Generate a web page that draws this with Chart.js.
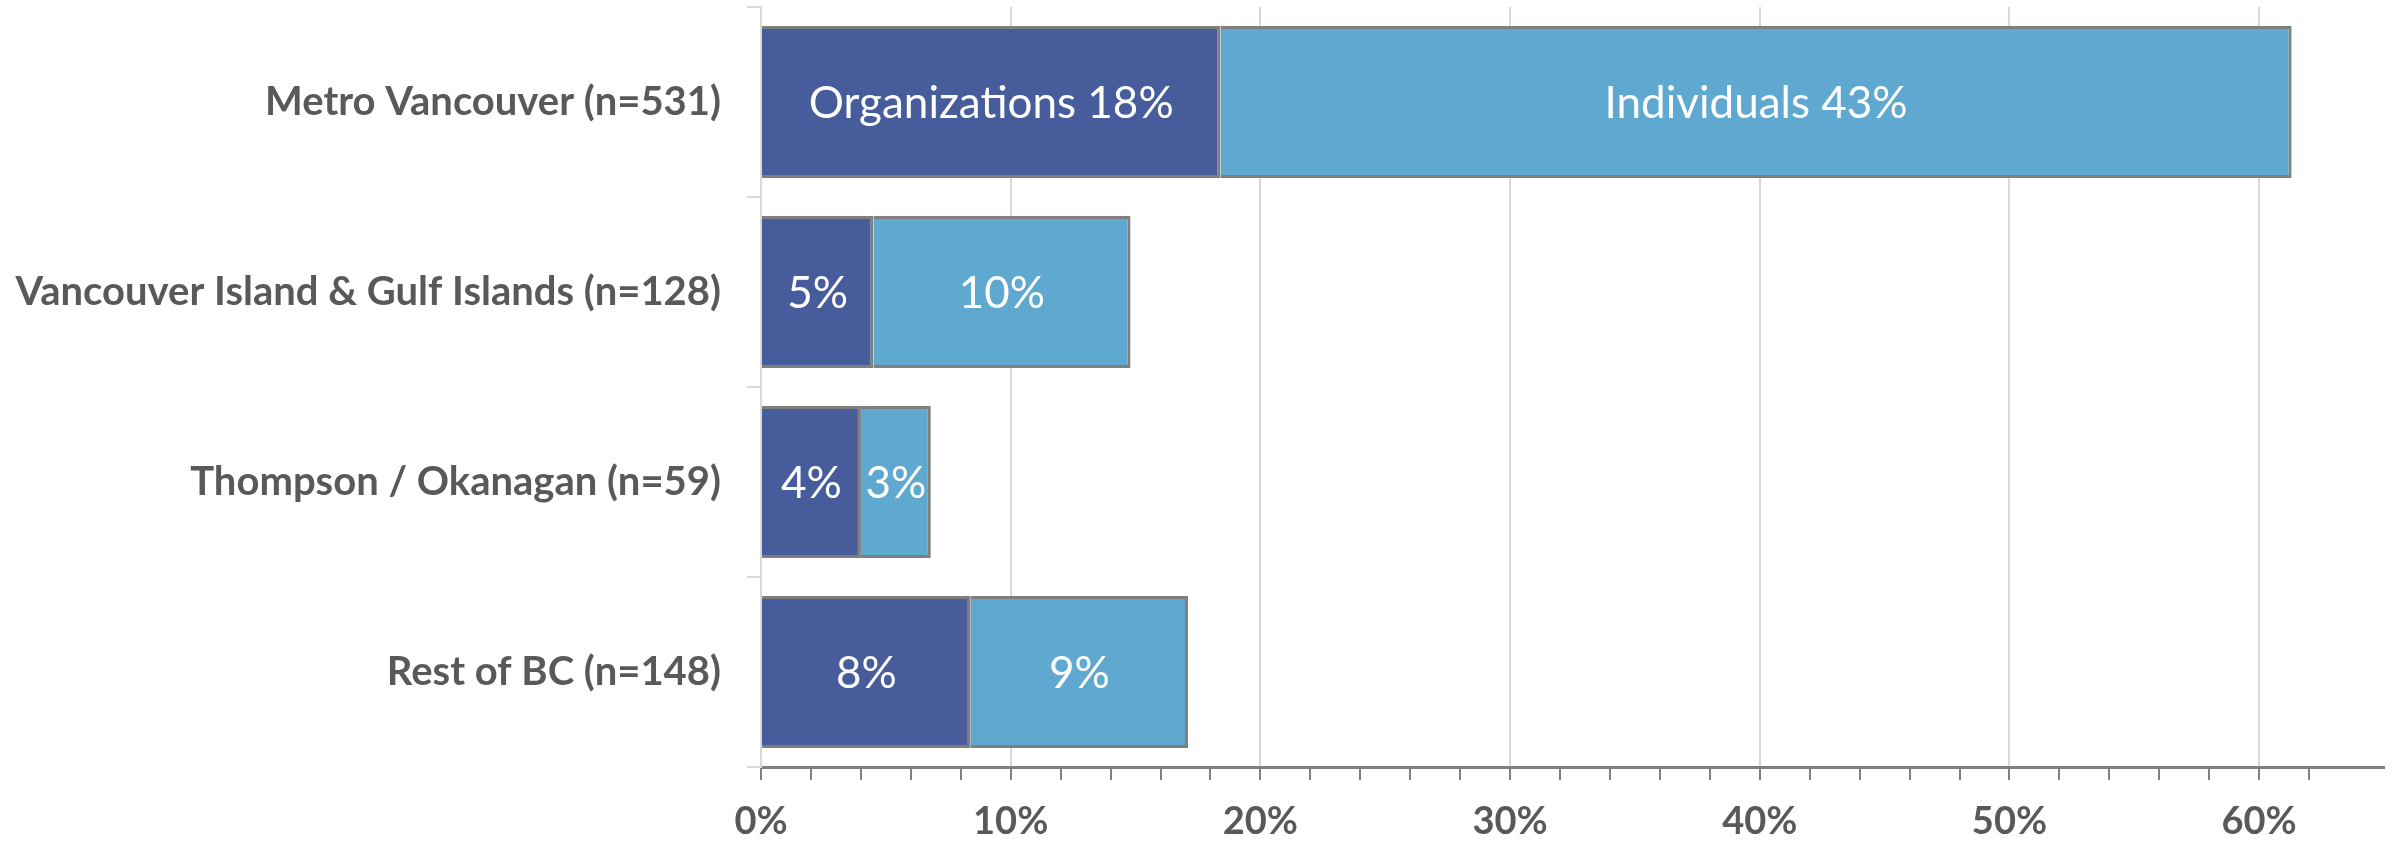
<!DOCTYPE html>
<html>
<head>
<meta charset="utf-8">
<script src="https://cdn.jsdelivr.net/npm/chart.js@4.4.1/dist/chart.umd.min.js"></script>
<style>
    html, body { margin: 0; padding: 0; background: #fff; }
    #wrap { width: 2402px; height: 842px; }
</style>
</head>
<body>
<div id="wrap"><canvas id="myChart" width="2402" height="842"></canvas></div>
<script>
const regions = [
    'Metro Vancouver (n=531)',
    'Vancouver Island & Gulf Islands (n=128)',
    'Thompson / Okanagan (n=59)',
    'Rest of BC (n=148)',
];

const organizations = [18.4, 4.5, 4.0, 8.4];
const individuals = [42.9, 10.3, 2.8, 8.7];

// only the first bar carries the series name in its label
const seriesNames = ['Organizations', 'Individuals'];

const grey = '#595959';
const font = 'Lato';

// draws the value labels inside each bar segment
const barLabels = {
    id: 'barLabels',
    afterDatasetsDraw(chart) {
        const ctx = chart.ctx;
        ctx.save();
        ctx.fillStyle = '#fff';
        ctx.font = '44px ' + font;
        ctx.textAlign = 'center';
        ctx.textBaseline = 'middle';
        chart.data.datasets.forEach(function(ds, d) {
            chart.getDatasetMeta(d).data.forEach(function(bar, i) {
                let txt = Math.round(ds.data[i]) + '%';
                if (i === 0) txt = seriesNames[d] + ' ' + txt;
                ctx.fillText(txt, (bar.x + bar.base) / 2, bar.y + 2);
            });
        });
        ctx.restore();
    }
};

const data = {
    labels: regions,
    datasets: [{
        label: seriesNames[0],
        data: organizations,
        backgroundColor: '#465C9B',
        borderColor: '#7F7F7F',
        borderWidth: 3,
    },
    {
        label: seriesNames[1],
        data: individuals,
        backgroundColor: '#5FA8CF',
        borderColor: '#7F7F7F',
        borderWidth: 3,
    }]
};

const config = {
    type: 'bar',
    data: data,
    plugins: [barLabels],
    options: {
        indexAxis: 'y',
        responsive: false,
        animation: false,
        layout: { padding: { top: 7, right: 18, left: 0, bottom: 0 } },
        datasets: {
            bar: { categoryPercentage: 1, barPercentage: 0.8 }
        },
        plugins: {
            legend: { display: false },
            tooltip: { enabled: false }
        },
        scales: {
            x: {
                stacked: true,
                min: 0,
                max: 65,
                afterFit: function(scale) {
                    scale.height = 75;
                    scale.paddingLeft = 0;
                    scale.paddingRight = 0;
                },
                border: { color: '#808080', width: 3 },
                grid: {
                    color: function(c) {
                        return c.tick && c.tick.value % 10 === 0 ? '#D9D9D9' : 'rgba(0,0,0,0)';
                    },
                    lineWidth: 2,
                    tickColor: function(c) {
                        return c.tick && c.tick.value === 65 ? 'rgba(0,0,0,0)' : '#808080';
                    },
                    tickWidth: 2,
                    tickLength: 13
                },
                ticks: {
                    stepSize: 2,
                    autoSkip: false,
                    maxRotation: 0,
                    padding: 19,
                    color: grey,
                    font: { family: font, size: 38, weight: 'bold' },
                    callback: function(v) { return v % 10 === 0 ? v + '%' : ''; }
                }
            },
            y: {
                stacked: true,
                afterFit: function(scale) {
                    scale.width = 761;
                    scale.paddingTop = 0;
                    scale.paddingBottom = 0;
                },
                border: { color: '#D9D9D9', width: 2 },
                grid: {
                    drawOnChartArea: false,
                    color: '#D9D9D9',
                    lineWidth: 2,
                    tickLength: 14
                },
                ticks: {
                    padding: 26,
                    color: grey,
                    font: { family: font, size: 40, weight: 'bold' }
                }
            }
        }
    }
};

const myChart = new Chart(
    document.getElementById('myChart'),
    config
);
</script>
</body>
</html>
